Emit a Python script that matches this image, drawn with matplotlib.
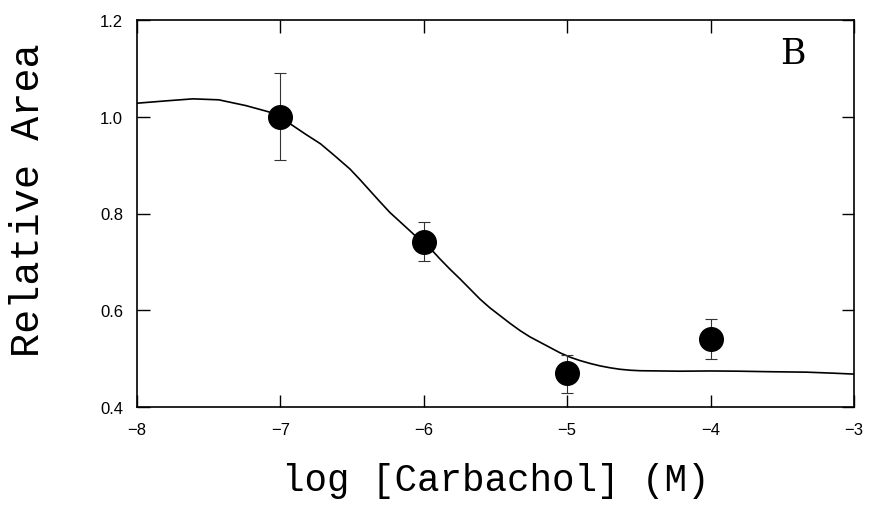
import matplotlib
matplotlib.use("Agg")
import matplotlib.pyplot as plt

# Data points (mean ± error)
log_conc = [-7, -6, -5, -4]
rel_area = [1.00, 0.742, 0.470, 0.541]
err_low = [0.09, 0.041, 0.041, 0.041]
err_high = [0.09, 0.040, 0.038, 0.040]

# Fitted curve
curve_x = [-8.0, -7.79, -7.61, -7.43, -7.24, -7.08, -6.93, -6.83, -6.72, -6.62,
           -6.515, -6.445, -6.375, -6.305, -6.236, -6.166, -6.096, -6.01, -5.94,
           -5.887, -5.818, -5.748, -5.678, -5.608, -5.539, -5.469, -5.399, -5.329,
           -5.26, -5.19, -5.12, -5.05, -4.98, -4.911, -4.84, -4.771, -4.70, -4.632,
           -4.56, -4.492, -4.35, -4.213, -4.0, -3.80, -3.6, -3.33, -3.15, -3.0]
curve_y = [1.028, 1.033, 1.037, 1.035, 1.023, 1.010, 0.985, 0.965, 0.944, 0.919,
           0.892, 0.870, 0.847, 0.824, 0.802, 0.783, 0.764, 0.740, 0.723,
           0.706, 0.685, 0.665, 0.644, 0.623, 0.605, 0.589, 0.573, 0.558,
           0.545, 0.534, 0.523, 0.512, 0.503, 0.496, 0.490, 0.485, 0.481, 0.478,
           0.476, 0.475, 0.4745, 0.474, 0.4745, 0.474, 0.473, 0.472, 0.470, 0.468]

x_ticks = [-8, -7, -6, -5, -4, -3]
x_tick_labels = ["\u22128", "\u22127", "\u22126", "\u22125", "\u22124", "\u22123"]
y_ticks = [0.4, 0.6, 0.8, 1.0, 1.2]
y_tick_labels = ["0.4", "0.6", "0.8", "1.0", "1.2"]

fig = plt.figure(figsize=(8.7, 5.1), dpi=100)
ax = fig.add_axes([137/870, 1 - 408/510, (854-137)/870, (408-21)/510])

ax.plot(curve_x, curve_y, color="black", lw=1.2, zorder=2)
ax.errorbar(log_conc, rel_area, yerr=[err_low, err_high], fmt="none",
            ecolor="#333333", elinewidth=0.8, capsize=4, capthick=0.8, zorder=3)
ax.plot(log_conc, rel_area, "o", color="black", markersize=17, zorder=4)

ax.set_xlim(-8, -3)
ax.set_ylim(0.4, 1.2)
ax.set_xticks(x_ticks)
ax.set_xticklabels(x_tick_labels, family="Liberation Sans", fontsize=12)
ax.set_yticks(y_ticks)
ax.set_yticklabels(y_tick_labels, family="Liberation Sans", fontsize=12)
ax.tick_params(direction="in", length=9, width=1.0, top=True, right=True)
ax.tick_params(axis="x", pad=11)
ax.tick_params(axis="y", pad=10)
for s in ax.spines.values():
    s.set_linewidth(1.2)

ax.set_xlabel("log [Carbachol] (M)", family="Liberation Mono", fontsize=27, labelpad=18)
ax.set_ylabel("Relative Area", family="Liberation Mono", fontsize=29)
ax.yaxis.set_label_coords(-0.125, 0.537)
ax.text(0.915, 0.915, "B", transform=ax.transAxes, family="DejaVu Serif",
        fontsize=25, ha="center", va="center")

fig.savefig("out.png", dpi=100)
